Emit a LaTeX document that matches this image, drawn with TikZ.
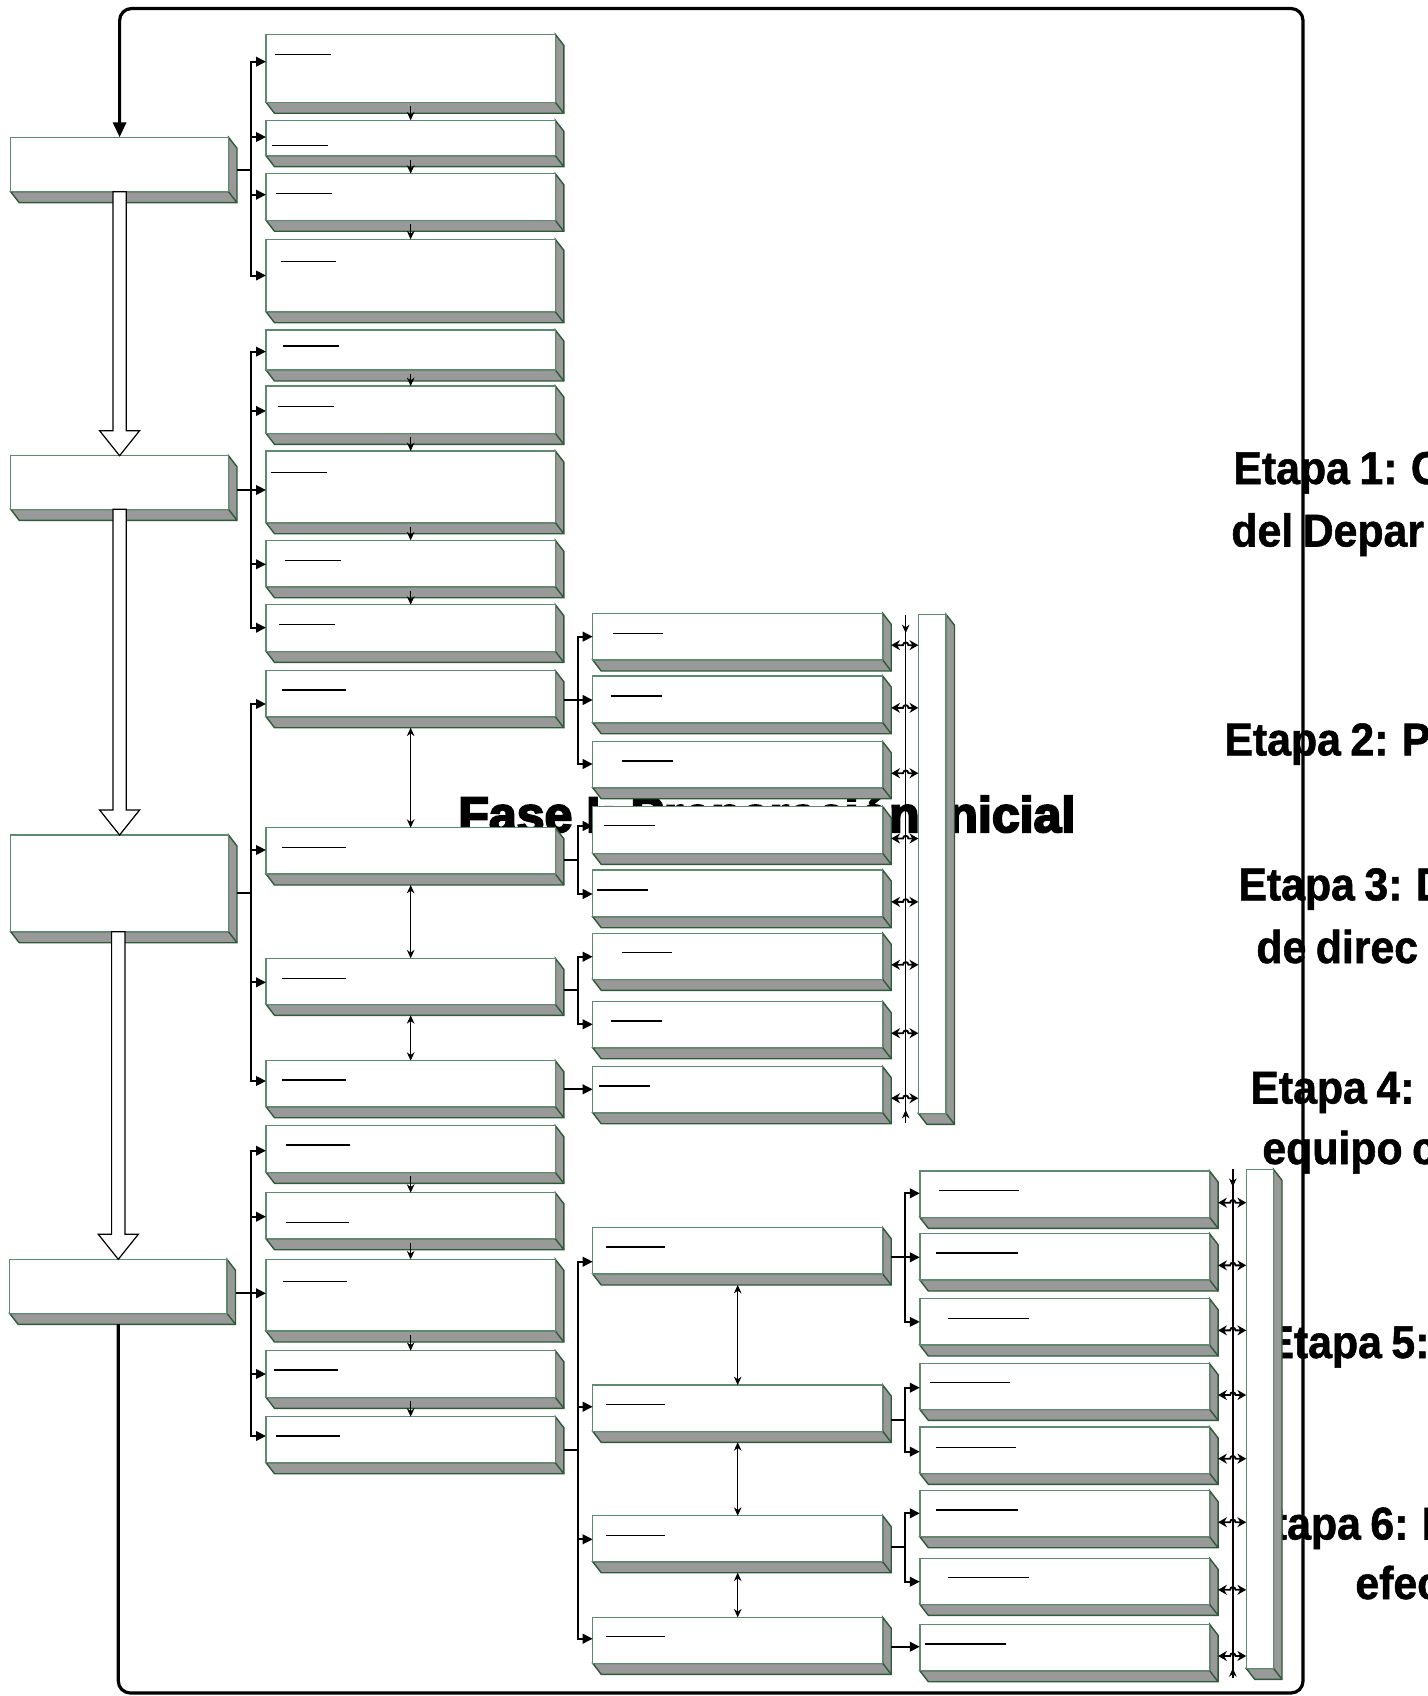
\documentclass[tikz,border=0pt]{standalone}
\usepackage{fontspec}
\usetikzlibrary{calc,arrows.meta}
\newfontfamily\etapafont{Liberation Sans}[FakeStretch=0.93,FakeBold=1.2,WordSpace=0.8]
\newfontfamily\fasefont{Liberation Sans}[FakeBold=4]
\definecolor{frontgreen}{HTML}{5F8A6F}
\definecolor{depthgreen}{HTML}{2E5A3A}
\definecolor{depthgray}{HTML}{999999}
\tikzset{
  frontface/.style={draw=frontgreen, fill=white, line width=0.7pt, inner sep=0pt, outer sep=0pt, rectangle},
  depthface/.style={fill=depthgray, draw=depthgreen, line width=0.7pt, line join=miter},
  depthline/.style={draw=depthgreen, line width=0.7pt},
  conn/.style={line width=1pt, line join=miter},
  busarr/.style={conn, -{Triangle[length=5pt,width=4.8pt]}},
  smallarr/.style={line width=0.5pt, -{Stealth[length=4.2pt,width=3.8pt]}},
  dblsmall/.style={line width=0.5pt, {Stealth[length=4.2pt,width=3.8pt]}-{Stealth[length=4.2pt,width=3.8pt]}},
  hoparr/.style={line width=0.9pt, {Stealth[length=4.4pt,width=5pt]}-{Stealth[length=4.4pt,width=5pt]}},
  vline/.style={line width=0.7pt},
  txtline/.style={line width=0.6pt},
  blockarr/.style={draw=black, fill=white, line width=0.6pt, line join=miter},
  loopline/.style={line width=1.6pt, rounded corners=6pt, -{Triangle[length=7.5pt,width=6.5pt]}},
  etapa/.style={font=\etapafont\bfseries\fontsize{23}{23}\selectfont, anchor=base west, inner sep=0pt},
  fase/.style={font=\fasefont\bfseries\fontsize{25}{25}\selectfont, anchor=base west, inner sep=0pt},
}
% 3-D box: name, left, top, right, bottom (px, y downward)
\newcommand\tbox[5]{%
  \path[depthface] (#2,#5) -- (#2+8.5,#5+11) -- (#4+8.5,#5+11) -- (#4+8.5,#3+11) -- (#4,#3) -- (#4,#5) -- cycle;
  \draw[depthline] (#4,#5) -- (#4+8.5,#5+11);
  \node[frontface, anchor=north west, minimum width={(#4-#2)*0.5pt}, minimum height={(#5-#3)*0.5pt}] (#1) at (#2,#3) {};
}
\newcommand\txl[3]{\draw[txtline] (#1,#3) -- (#2,#3);}
% fan: source node, y offset, bus coordinate, list target/offset
\newcommand\fan[4]{%
  \path (#1.east) ++(8.5,#2) coordinate (#1-s);
  \draw[conn] (#1-s) -- (#1-s -| #3);
  \foreach \t/\o in {#4} {\draw[busarr] (#1-s -| #3) |- ($(\t.west)+(0,\o)$);}
}
\newcommand\dn[2]{\draw[smallarr] ($(#1.south)+(0,4)$) -- (#2.north);}
\newcommand\dd[2]{\draw[dblsmall] ($(#1.south)+(0,11)$) -- (#2.north);}
\newcommand\hp[3]{%
  \path (#1.east) ++(8.5,8.5) coordinate (#1-h);
  \draw[hoparr] (#1-h) -- ++(#3,0) .. controls +(0,-3.6) and +(0,-3.6) .. ++(5.4,0) -- (#2.west |- #1-h);
}
\newcommand\blockarrow[2]{%
  \path (#2.north |- #1.south) coordinate (#1-bt) (#2.north) coordinate (#1-bp);
  \draw[blockarr] ($(#1-bt)+(-6.7,0)$) -- ($(#1-bp)+(-6.7,-25)$) -- ($(#1-bp)+(-20,-25)$) -- (#1-bp)
    -- ($(#1-bp)+(20,-25)$) -- ($(#1-bp)+(6.7,-25)$) -- ($(#1-bt)+(6.7,0)$) -- cycle;
}
\begin{document}
\begin{tikzpicture}[x=0.5pt, y=-0.5pt]
\useasboundingbox (0,0) rectangle (1428,1696);

% ---------- texts (behind everything) ----------
\node[fase] (fase) at (458,832) {Fase I: Preparación inicial};
\node[etapa] (et1a) at (1233,484) {Etapa 1: C};
\node[etapa] (et1b) at (1231,546.5) {del Depar};
\node[etapa] (et2a) at (1224,755.4) {Etapa 2: P};
\node[etapa] (et3a) at (1238,900.3) {Etapa 3: D};
\node[etapa] (et3b) at (1256,963) {de direc};
\node[etapa] (et4a) at (1250,1103.5) {Etapa 4:};
\node[etapa] (et4b) at (1262,1164) {equipo c};
\node[etapa] (et5a) at (1265,1358) {Etapa 5:};
\node[etapa] (et6a) at (1244,1539.5) {Etapa 6: I};
\node[etapa] (et6b) at (1355,1599) {efec};

% ---------- column 1 ----------
\tbox{b1}{10.7}{137.3}{228.5}{191.7}
\tbox{b2}{10.7}{455.7}{228.5}{509.3}
\tbox{b3}{10.7}{835}{228.5}{931.7}
\tbox{b4}{9.6}{1259.3}{227}{1313.3}

% ---------- column 2 ----------
\tbox{m1}{266}{34.3}{555.3}{102.3}   \txl{274.8}{330.7}{54.3}
\tbox{m2}{266}{120.3}{555.3}{155.7}  \txl{271.7}{327.6}{145.3}
\tbox{m3}{266}{173.7}{555.3}{220.3}  \txl{276.3}{332.2}{193.7}
\tbox{m4}{266}{239.3}{555.3}{311.7}  \txl{280.5}{336.4}{261.7}
\tbox{g2a}{266}{330}{555.3}{370}     \txl{283.4}{338.6}{346}
\tbox{g2b}{266}{386}{555.3}{433.3}   \txl{278}{333.7}{406.7}
\tbox{g2c}{266}{451}{555.3}{522.7}   \txl{270.6}{326.8}{472.7}
\tbox{g2d}{266}{540.3}{555.3}{586.7} \txl{285}{340.6}{560.7}
\tbox{g2e}{266}{604.7}{555.3}{651.3} \txl{279.4}{334.5}{624.7}
\tbox{g3a}{266}{670.7}{555.3}{716.7} \txl{282.4}{346}{690}
\tbox{g3b}{266}{827.7}{555.3}{874}   \txl{282.4}{346}{847.3}
\tbox{g3c}{266}{958.3}{555.3}{1004.3} \txl{282.4}{346}{978.3}
\tbox{g3d}{266}{1060.7}{555.3}{1106.7} \txl{282.4}{346}{1080}
\tbox{g4a}{266}{1125.7}{555.3}{1172.3} \txl{286.3}{349.8}{1145}
\tbox{g4b}{266}{1192.7}{555.3}{1238.7} \txl{285.9}{349.4}{1222.3}
\tbox{g4c}{266}{1259.3}{555.3}{1331}   \txl{283.2}{346.7}{1281.3}
\tbox{g4d}{266}{1350.7}{555.3}{1397.3} \txl{274}{337.5}{1370}
\tbox{g4e}{266}{1416.7}{555.3}{1462.7} \txl{276}{339.7}{1436}

% ---------- column 3 ----------
\tbox{c1}{592.7}{613.3}{882.7}{660}     \txl{612.7}{663.3}{633.3}
\tbox{c2}{592.7}{676}{882.7}{722.7}     \txl{610.7}{661.7}{696}
\tbox{c3}{592.7}{741.7}{882.7}{787.7}   \txl{622.3}{673.3}{761}
\tbox{c4}{592.7}{806.7}{882.7}{853.3}   \txl{604}{655}{825.7}
\tbox{c5}{592.7}{870}{882.7}{916.7}     \txl{597.3}{648.3}{890}
\tbox{c6}{592.7}{933.3}{882.7}{979.3}   \txl{621.7}{672.3}{952.7}
\tbox{c7}{592.7}{1001.7}{882.7}{1047.7} \txl{610.7}{661.7}{1021}
\tbox{c8}{592.7}{1066.7}{882.7}{1112.7} \txl{599.3}{650}{1086}
\tbox{d1}{592.7}{1227.7}{882.7}{1274}   \txl{606.4}{664.9}{1247}
\tbox{d2}{592.7}{1385}{882.7}{1431.3}   \txl{606.4}{664.9}{1404.7}
\tbox{d3}{592.7}{1515.7}{882.7}{1561.7} \txl{606.4}{664.9}{1535.3}
\tbox{d4}{592.7}{1617.3}{882.7}{1663.3} \txl{606.4}{664.9}{1636.7}
\tbox{t1}{918.3}{614.3}{946}{1113.3}

% ---------- column 4 ----------
\tbox{e1}{919.8}{1171}{1209.6}{1217.3}   \txl{938.6}{1018.9}{1190.7}
\tbox{e2}{919.8}{1233.7}{1209.6}{1280}   \txl{936.3}{1017.6}{1253}
\tbox{e3}{919.8}{1298.7}{1209.6}{1345}   \txl{948.4}{1029.2}{1318.3}
\tbox{e4}{919.8}{1363.7}{1209.6}{1409.3} \txl{930}{1010.4}{1382.7}
\tbox{e5}{919.8}{1427}{1209.6}{1473.3}   \txl{935.9}{1016.3}{1447.3}
\tbox{e6}{919.8}{1490.7}{1209.6}{1536.7} \txl{936.3}{1017.6}{1510}
\tbox{e7}{919.8}{1558.3}{1209.6}{1604.3} \txl{947.5}{1028.8}{1577.7}
\tbox{e8}{919.8}{1624.3}{1209.6}{1670.7} \txl{925.2}{1006.4}{1644}
\tbox{t2}{1246.2}{1169.3}{1273.5}{1668.3}

% ---------- bus positions ----------
\coordinate (xA) at (250.7,0);
\coordinate (xB) at (578,0);
\coordinate (xC) at (905.1,0);

% ---------- fans ----------
\fan{b1}{5.5}{xA}{m1/-6.6, m2/-1, m3/-2.3, m4/0}
\fan{b2}{7.5}{xA}{g2a/1.6, g2b/1.3, g2c/3.15, g2d/0.8, g2e/-0.3}
\fan{b3}{10}{xA}{g3a/10.3, g3b/-0.85, g3c/1, g3d/-2.7}
\fan{b4}{7}{xA}{g4a/1.7, g4b/1, g4c/-1.85, g4d/0, g4e/-3.7}
\fan{g3a}{6.3}{xB}{c1/0, c2/0.65, c3/-0.7}
\fan{g3b}{9.15}{xB}{c4/-4, c5/0.65}
\fan{g3c}{8.7}{xB}{c6/0.4, c7/-0.4}
\fan{g3d}{5.6}{xB}{c8/-0.4}
\fan{g4e}{10.3}{xB}{d1/10.85, d2/-1.45, d3/0.6, d4/-1.6}
\fan{d1}{6.45}{xC}{e1/-0.85, e2/0.45, e3/0}
\fan{d2}{11.5}{xC}{e4/1.2, e5/1.5}
\fan{d3}{8.6}{xC}{e6/-0.4, e7/0.4}
\fan{d4}{6.4}{xC}{e8/-0.8}

% ---------- sequence arrows in column 2 ----------
\dn{m1}{m2} \dn{m2}{m3} \dn{m3}{m4}
\dn{g2a}{g2b} \dn{g2b}{g2c} \dn{g2c}{g2d} \dn{g2d}{g2e}
\dn{g4a}{g4b} \dn{g4b}{g4c} \dn{g4c}{g4d} \dn{g4d}{g4e}
\dd{g3a}{g3b} \dd{g3b}{g3c} \dd{g3c}{g3d}
\dd{d1}{d2} \dd{d2}{d3} \dd{d3}{d4}

% ---------- side links to the tall boxes ----------
\coordinate (v1t) at (905.7,615);
\coordinate (v1b) at (905.7,1123);
\draw[vline] (v1t) -- (v1b);
\draw[smallarr] (v1t) -- ++(0,18);
\draw[smallarr] (v1b) -- ++(0,-13);
\foreach \b in {c1,c2,c3,c4,c5,c6,c7,c8} {\hp{\b}{t1}{11.8}}
\coordinate (v2t) at (1232.8,1169.3);
\coordinate (v2b) at (1232.8,1678.3);
\draw[vline] (v2t) -- (v2b);
\draw[smallarr] (v2t) -- ++(0,17.5);
\draw[smallarr] (v2b) -- ++(0,-10);
\foreach \b in {e1,e2,e3,e4,e5,e6,e7,e8} {\hp{\b}{t2}{12}}

% ---------- block arrows between stages ----------
\blockarrow{b1}{b2}
\blockarrow{b2}{b3}
\blockarrow{b3}{b4}

% ---------- feedback loop ----------
\coordinate (L1) at (118.3,1693);
\coordinate (L2) at (1303,1693);
\coordinate (L3) at (1303,8.5);
\coordinate (L4) at (119.6,8.5);
\draw[loopline] ($(b4.south)+(0,10.7)$) -- (L1) -- (L2) -- (L3) -- (L4) -- (b1.north);
\end{tikzpicture}
\end{document}
